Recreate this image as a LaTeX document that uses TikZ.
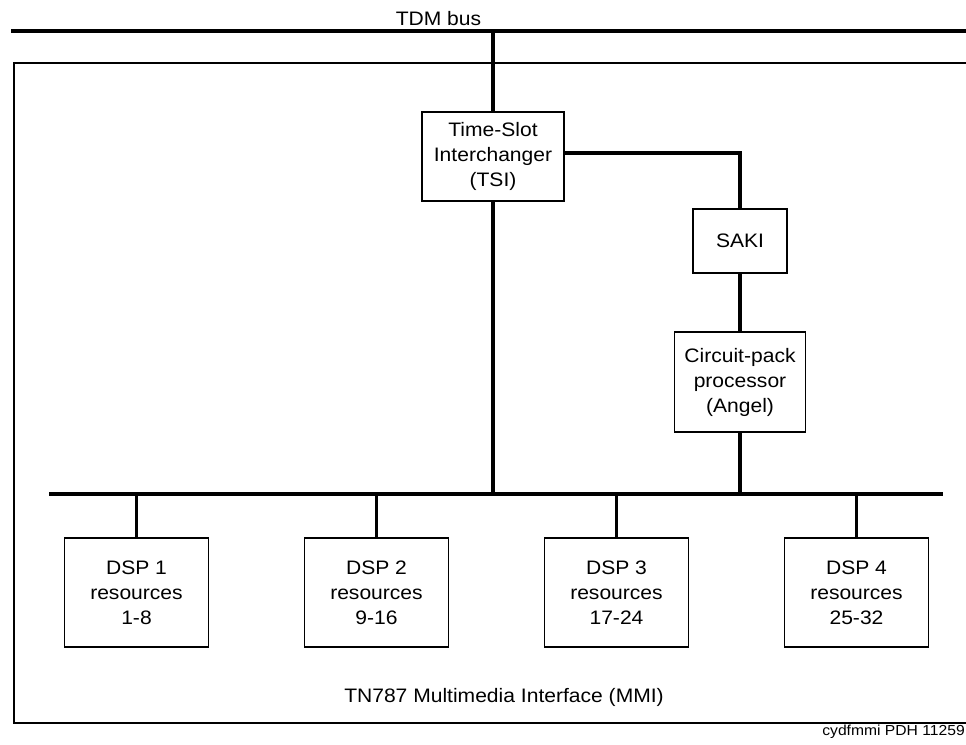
\documentclass[tikz,border=0pt]{standalone}
\usepackage{fontspec}
\setmainfont{Liberation Sans}[FakeStretch=1.08]
\usepackage{tikz}
\usetikzlibrary{positioning}

\begin{document}
\begin{tikzpicture}[x=1pt, y=-1pt,
    unitbox/.style={draw, line width=1.4pt, align=center,
                    font=\fontsize{19.5}{25}\selectfont},
    buslabel/.style={anchor=base, font=\fontsize{19.5}{22}\selectfont},
    bus/.style={line width=4.2pt},
    link/.style={line width=3.2pt}]
        \useasboundingbox (0,0) rectangle (966,744);
        % buses
        \coordinate (tdmW) at (11,31);
        \coordinate (tdmE) at (966,31);
        \coordinate (lanW) at (49,494);
        \coordinate (lanE) at (943,494);
        \draw[bus] (tdmW) -- (tdmE);
        \node[buslabel] (tdmlabel) at (438.5,25) {TDM bus};
        % circuit pack frame
        \draw[line width=1.4pt] (968,63) -| (14,723) -- (968,723);
        \node[buslabel] (mmilabel) at (504,702) {TN787 Multimedia Interface (MMI)};
        \node[anchor=base east, inner sep=0pt, font=\fontsize{14.5}{16}\selectfont]
              (figid) at (965,735.5) {cydfmmi PDH 11259};
        \node[unitbox, minimum width=142pt, minimum height=89pt] (tsi) at (493,156.5)
              {Time-Slot\\Interchanger\\(TSI)};
        \node[unitbox, minimum width=94pt, minimum height=64pt] (saki) at (740,241)
              {SAKI};
        \node[unitbox, minimum width=131pt, minimum height=100pt] (angel) at (740,382)
              {Circuit-pack\\processor\\(Angel)};
        \draw[link] (tsi.north) -- (tsi.north |- tdmW);
        \draw[link] (tsi.south) -- (tsi.south |- lanW);
        \draw[link] ([yshift=3.5pt]tsi.east) -| (saki.north);
        \draw[link] (saki.south) -- (angel.north);
        \draw[link] (angel.south) -- (angel.south |- lanW);
        \draw[bus] (lanW) -- (lanE);
        % DSP resources
        \foreach \i/\x/\rng in {1/136.5/1-8, 2/376.5/9-16, 3/616.5/17-24, 4/856.5/25-32}{
          \node[unitbox, minimum width=144pt, minimum height=109pt] (dsp\i) at (\x,592.5)
                {DSP \i\\resources\\\rng};
          \draw[link] (dsp\i.north) -- (dsp\i.north |- lanW);
        }
      \end{tikzpicture}
\end{document}
